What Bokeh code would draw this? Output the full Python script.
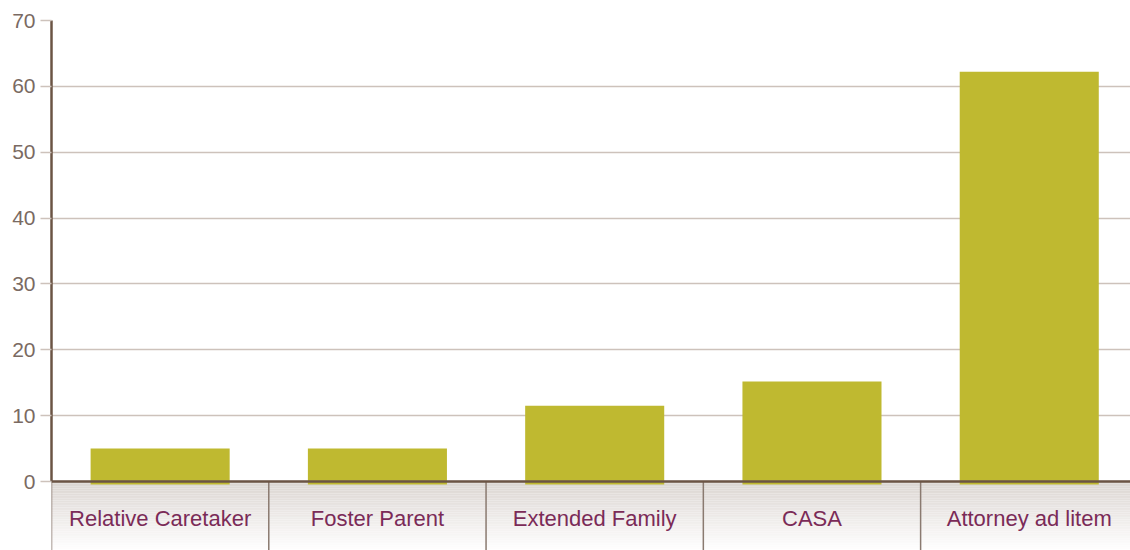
import numpy as np
from bokeh.plotting import figure
from bokeh.models import Range1d, FixedTicker, Span, ColumnDataSource
from bokeh.core.properties import value
from bokeh.embed import file_html
from bokeh.resources import INLINE

categories = ["Relative Caretaker", "Foster Parent", "Extended Family", "CASA", "Attorney ad litem"]
counts = [5, 5, 11.5, 15.2, 62.2]
y_ticks = [0, 10, 20, 30, 40, 50, 60, 70]

FONT = "Liberation Sans"
BAR = "#bfb930"
AXIS = "#6b5444"
GRID = "#cdc2bb"
TICK_TXT = "#7a6a62"
CAT_TXT = "#7b2b58"

n = len(categories)
idx = np.arange(n)
Y0 = -10.47

p = figure(width=1130, height=550, output_backend="svg", toolbar_location=None,
           x_range=Range1d(0, 4.966), y_range=Range1d(Y0, 70),
           x_axis_location=None, min_border_left=51, min_border_top=20,
           min_border_bottom=0, min_border_right=0)
p.outline_line_color = None
p.background_fill_color = "white"
p.border_fill_color = "white"

# category band gradient (background decoration)
steps = 40
band_edges = np.linspace(0, Y0, steps + 1)
c0 = np.array([0xdc, 0xd6, 0xd2]); c1 = np.array([0xff, 0xff, 0xff])
cols = []
for k in range(steps):
    t = k / (steps - 1)
    c = (c0 * (1 - t) + c1 * t).astype(int)
    cols.append("#%02x%02x%02x" % tuple(c))
p.quad(left=-1, right=10, top=band_edges[:-1], bottom=band_edges[1:], fill_color=cols, line_color=None)

# grid and y axis
p.xgrid.visible = False
p.ygrid.grid_line_color = GRID
p.ygrid.grid_line_width = 1.5
p.ygrid.ticker = FixedTicker(ticks=y_ticks)
p.yaxis.ticker = FixedTicker(ticks=y_ticks)
p.yaxis.bounds = (0, 70)
p.yaxis.axis_line_color = AXIS
p.yaxis.axis_line_width = 2.5
p.yaxis.major_tick_line_color = GRID
p.yaxis.major_tick_line_width = 1.5
p.yaxis.major_tick_out = 11
p.yaxis.major_tick_in = 0
p.yaxis.minor_tick_line_color = None
p.yaxis.major_label_standoff = 5
p.yaxis.major_label_text_font = FONT
p.yaxis.major_label_text_font_size = "21px"
p.yaxis.major_label_text_color = TICK_TXT

# bars
src = ColumnDataSource(dict(x=idx + 0.5, top=counts, cat=categories))
p.vbar(x="x", top="top", bottom=-0.45, width=0.64, source=src, fill_color=BAR, line_color=None)

# x axis line
p.add_layout(Span(location=0, dimension="width", line_color=AXIS, line_width=2.5))

# category separators
sep = np.arange(n + 1)
p.segment(x0=sep, x1=sep, y0=0, y1=-12, line_color="#8a7a70", line_width=1.5)

# category labels
p.text(x="x", y=-5.6, text="cat", source=src, text_align="center", text_baseline="middle",
       text_font=value(FONT), text_font_size="22px", text_color=CAT_TXT)

open("out.html", "w").write(file_html(p, INLINE))
